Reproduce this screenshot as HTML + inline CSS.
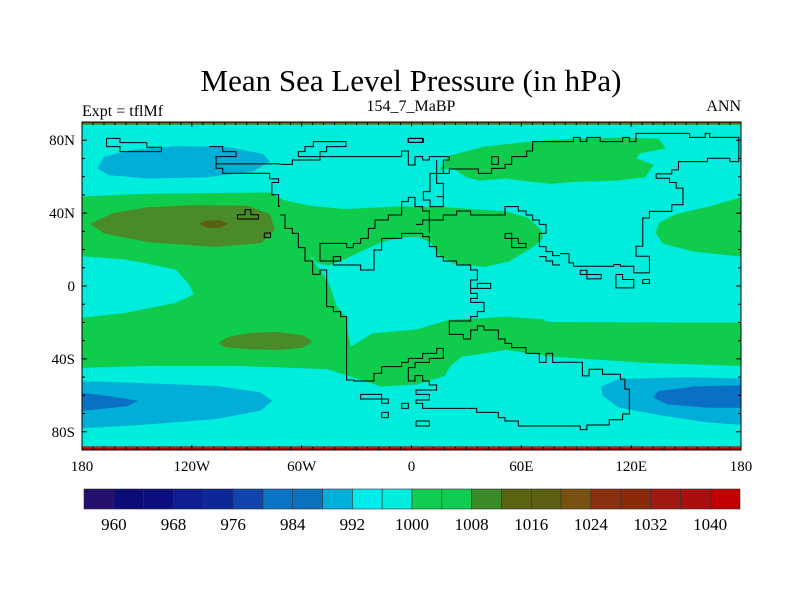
<!DOCTYPE html>
<html><head><meta charset="utf-8">
<style>
html,body{margin:0;padding:0;background:#fff;}
svg{display:block;font-family:"Liberation Serif",serif;}
</style></head>
<body>
<svg id="chart" width="800" height="600" viewBox="0 0 800 600" xmlns="http://www.w3.org/2000/svg">
<text x="411" y="91" font-size="31" text-anchor="middle">Mean Sea Level Pressure (in hPa)</text>
<text x="82" y="116" font-size="16">Expt = tflMf</text>
<text x="411" y="111" font-size="16" text-anchor="middle">154_7_MaBP</text>
<text x="741" y="111" font-size="16" text-anchor="end">ANN</text>
<defs><clipPath id="mapclip"><rect x="82" y="122" width="659" height="328"/></clipPath></defs>
<g id="map" clip-path="url(#mapclip)">
<rect x="82" y="122" width="659" height="328" fill="#00ecdc"/>
<g id="fills" transform="matrix(0.4468 0 0 0.3322 59.66 100.13)"></g>
<rect x="82" y="121" width="659" height="2.5" fill="#8a5010"/>
<rect x="82" y="123.5" width="659" height="1.2" fill="#3a8a28"/>
<rect x="82" y="446.3" width="659" height="1.5" fill="#8a3010"/>
<rect x="82" y="447.8" width="659" height="2.5" fill="#c00000"/>
<g id="coast2" transform="matrix(0.4468 0 0 0.3322 59.66 100.13)" fill="none" stroke="#000" stroke-width="1"></g>
<g id="coast3" transform="translate(280 125) scale(0.33333)" fill="none" stroke="#000" stroke-width="1"></g>
</g>
<rect x="82" y="122" width="659" height="328" fill="none" stroke="#000" stroke-width="1"/>
<g id="axes"></g>
<g id="colorbar"></g>
</svg>
<script>
const NS="http://www.w3.org/2000/svg";
// colorbar data
const cbLevels=[960,964,968,972,976,980,984,988,992,996,1000,1004,1008,1012,1016,1020,1024,1028,1032,1036,1040];
const cbColors=["#24106c","#0c0c78","#0c0e80","#0e1e90","#0c2898","#1244b0","#0a74c4","#0872c0","#00b0dc","#00ecec","#00ecdc","#10cc50","#10cc50","#3a8a28","#5a6410","#5a6010","#7a5010","#8a3010","#8a2a08","#a01810","#a81010","#c00000"];
const cbLabels=[960,968,976,984,992,1000,1008,1016,1024,1032,1040];
// axis data
const lonTicks=[-180,-120,-60,0,60,120,180];
const lonTickLabels=["180","120W","60W","0","60E","120E","180"];
const latTicks=[80,40,0,-40,-80];
const latTickLabels=["80N","40N","0","40S","80S"];
const X=lon=>82+(lon+180)/360*659;
const Y=lat=>286-lat*328/180;

function mk(tag,attrs,parent){const e=document.createElementNS(NS,tag);for(const k in attrs)e.setAttribute(k,attrs[k]);parent.appendChild(e);return e;}
function pts(a){let s="";for(let i=0;i<a.length;i+=2)s+=a[i]+","+a[i+1]+" ";return s;}

// contour fill regions (traced)
const fills=[
 ["green-band-main","#10cc4c",[50,290,200,282,470,278,500,300,560,318,640,328,760,320,860,322,1000,335,1050,355,1080,395,1085,500,1085,665,1100,668,1525,670,1525,800,1300,790,1100,772,1000,752,900,772,875,800,862,830,800,856,720,862,650,832,600,810,400,800,200,800,50,806]],
 ["cyan-interior","#00ecdc",[552,455,575,490,600,498,640,478,680,452,720,428,760,414,800,412,830,428,848,465,882,492,950,502,1005,486,1060,442,1095,400,1100,380,1100,662,1000,652,870,662,800,690,700,702,652,742,645,700,640,650,620,620,605,560,585,515]],
 ["cyan-equator-lens","#00ecdc",[50,470,150,480,260,510,290,555,300,585,260,610,150,640,50,655]],
 ["green-north-asia","#10cc4c",[850,210,870,168,950,140,1050,125,1150,116,1250,113,1340,116,1357,145,1300,160,1290,175,1330,195,1310,232,1250,242,1150,246,1100,252,1030,242,1000,236,940,242,910,232,880,205]],
 ["green-east-lobe","#10cc4c",[1530,290,1460,318,1380,343,1342,368,1334,400,1350,432,1420,456,1530,472]],
 ["olive-nw-high","#4a8a28",[68,372,120,340,200,322,300,316,420,318,470,342,482,388,452,430,350,442,200,428,100,402]],
 ["olive-nw-core","#5a6010",[312,372,330,362,360,362,377,372,360,384,330,384]],
 ["olive-sw-high","#4a8a28",[355,730,380,712,430,700,490,698,545,708,567,727,545,745,490,752,420,750,370,744]],
 ["blue-nw-low","#00aed8",[84,205,100,170,160,150,260,138,380,142,455,162,470,185,432,215,330,232,200,236,110,226]],
 ["blue-sw-low","#00aed8",[45,846,150,850,350,860,450,880,476,905,450,935,350,960,200,976,45,988]],
 ["blue-se-low","#00aed8",[1530,838,1400,834,1250,840,1212,862,1215,890,1250,925,1350,950,1450,970,1530,978]],
 ["darkblue-sw-low","#0a70c4",[45,880,120,893,175,905,150,922,45,936]],
 ["darkblue-se-low","#0a70c4",[1530,858,1420,862,1340,876,1328,895,1360,916,1450,926,1530,926]]
];
const gF=document.getElementById("fills");
fills.forEach(f=>{const p=mk("polygon",{points:pts(f[2]),fill:f[1]},gF);

});

// coastlines (zoom-2 frame)
const coast2=[
 ["coast-nw-island",[105,115,135,115,135,128,195,128,195,142,228,142,228,155,135,155,135,140,105,140,105,115]],
 ["coast-north-america",[335,140,365,140,365,155,395,155,395,170,350,170,350,205,365,205,365,220,470,220,470,237,490,237,490,248,475,248,475,285,490,285,490,320,493,320]],
 ["coast-na-north",[350,192,493,192]],
 ["coast-island-a",[398,358,398,345,415,345,415,330,428,330,428,345,445,345,445,358,398,358]],
 ["coast-island-b",[458,400,472,400,472,414,458,414,458,400]],
 ["coast-eurasia-north",[1120,125,1150,125,1150,112,1165,112,1165,125,1180,125,1180,112,1210,112,1210,125,1260,125,1260,112,1275,112,1275,125,1290,125,1290,100,1410,100,1410,112,1445,112,1445,100,1455,100,1455,112,1520,112,1520,185,1500,185,1500,175,1450,175,1450,185,1385,185,1385,210,1370,210,1370,222,1335,222,1335,235,1365,235,1365,248,1380,248,1380,265,1395,265,1395,315,1370,315,1370,335,1320,335,1320,355,1305,355,1305,440,1290,440,1290,470,1320,470,1320,520,1285,520,1285,500,1255,500,1255,495,1240,495,1240,500,1150,500,1150,490,1140,490,1140,462,1120,462]],
 ["coast-island-c",[1165,512,1180,512,1180,525,1212,525,1212,538,1180,538,1180,525,1165,525,1165,512]],
 ["coast-island-d",[1245,525,1260,525,1260,540,1285,540,1285,565,1245,565,1245,525]],
 ["coast-island-e",[1305,540,1320,540,1320,552,1305,552,1305,540]],
 ["coast-australia-antarctica",[1120,981,1165,981,1165,992,1180,992,1180,978,1230,978,1230,962,1260,962,1260,945,1275,945,1275,870,1265,870,1265,840,1255,840,1255,825,1215,825,1215,810,1185,810,1185,830,1170,830,1170,789,1120,789]],
 ["coast-island-f",[780,115,812,115,812,127,780,127,780,115]]
];
const g2=document.getElementById("coast2");
coast2.forEach(c=>{const p=mk("polyline",{points:pts(c[1]),"vector-effect":"non-scaling-stroke"},g2);

});

// coastlines (zoom-3 frame)
const coast3=[
 ["coast-greenland",[55,95,55,80,75,80,75,65,100,65,100,50,198,50,198,65,140,65,140,80,120,80,120,95,55,95]],
 ["coast-arctic-shelf",[0,118,37,118,37,105,120,105,120,95,200,95,365,95,365,78,385,78,385,120,405,120,405,95,428,95,428,105,448,105,448,95,508,95,508,105,490,105,490,145,470,145,470,175,490,175,490,215,470,215]],
 ["coast-europe-west",[470,105,470,145,450,145,450,200,430,200,430,225,450,225,450,245,490,245,490,215]],
 ["coast-eurasia-top",[490,145,508,145,508,132,595,132,595,145,635,145,635,130,675,130,675,118,695,118,695,95,740,95,740,78,758,78,758,50,840,50]],
 ["coast-small-box",[635,95,655,95,655,118,635,118,635,95]],
 ["coast-small-box-2",[385,40,430,40,430,52,385,52,385,40]],
 ["coast-americas-west",[0,270,15,270,15,310,37,310,37,325,55,325,55,368,75,368,75,408,98,408,98,448,120,448,120,435,140,435,140,545,160,545,160,560,182,560,182,575,200,575,200,765,222,765,222,768,282,768,282,745,305,745,305,725,365,725,365,712,385,712,385,700,428,700,428,685,470,685,470,670,490,670,490,700,448,700,448,712,405,712,405,728,385,728,385,768,405,768,405,752,428,752,428,768,448,768,448,780,470,780,470,795,408,795,408,808,448,808,448,825,408,825,408,835,428,835,428,850,590,850,590,862,655,862,655,878,675,878,675,888,715,888,715,903,840,903]],
 ["coast-tethys-north",[120,408,120,355,200,355,200,368,220,368,220,355,242,355,242,340,265,340,265,310,285,310,285,285,325,285,325,270,365,270,365,230,385,230,385,217,405,217,405,245,428,245,428,258,448,258,448,325]],
 ["coast-africa",[120,408,182,408,182,395,160,395,160,420,242,420,242,435,282,435,282,375,305,375,305,340,365,340,365,325,428,325,428,335,448,335,448,365,470,365,470,395,490,395,490,408,530,408,530,420,572,420,572,435,592,435,592,465,572,465,572,490,592,490,592,475,632,475,632,490,592,490,572,490,572,505,592,505,592,520,572,520,572,532,612,532,612,560,592,560,592,575,572,575,572,588,508,588,508,628,550,628,550,642,572,642,572,615,592,615,592,603,612,603,612,615,655,615,655,642,675,642,675,655,695,655,695,668,738,668,738,685,778,685,778,712,798,712,798,685,818,685,818,712,840,712]],
 ["coast-eurasia-south",[408,298,428,298,428,285,490,285,490,270,530,270,530,258,572,258,572,270,675,270,675,245,715,245,715,258,738,258,738,270,758,270,758,285,778,285,778,298,798,298,798,325,778,325,778,365,798,365,798,380,818,380,818,392,840,392]],
 ["coast-island-g",[675,325,695,325,695,340,715,340,715,355,738,355,738,368,695,368,695,340,675,340,675,325]],
 ["coast-island-h",[778,395,798,395,798,408,818,408,818,420,840,420]],
 ["coast-island-i",[242,808,305,808,305,822,325,822,325,835,305,835,305,822,242,822,242,808]],
 ["coast-island-j",[365,835,385,835,385,850,365,850,365,835]],
 ["coast-island-k",[305,862,325,862,325,878,305,878,305,862]],
 ["coast-island-l",[408,888,448,888,448,903,408,903,408,888]]
];
const g3=document.getElementById("coast3");
coast3.forEach(c=>{const p=mk("polyline",{points:pts(c[1]),"vector-effect":"non-scaling-stroke"},g3);

});

// axes ticks
const gA=document.getElementById("axes");
for(let lon=-180;lon<=180;lon+=6){
  const major=lon%60===0, L=major?5:3;
  const t1=mk("line",{x1:X(lon),x2:X(lon),y1:450,y2:450-L,stroke:"#000","stroke-width":1},gA);
  
  
  const t2=mk("line",{x1:X(lon),x2:X(lon),y1:122,y2:122+L,stroke:"#000","stroke-width":1},gA);
  
  
}
for(let lat=-90;lat<=90;lat+=10){
  const major=(lat%40===0), L=major?5:3;
  const t1=mk("line",{x1:82,x2:82+L,y1:Y(lat),y2:Y(lat),stroke:"#000","stroke-width":1},gA);
  
  
  const t2=mk("line",{x1:741,x2:741-L,y1:Y(lat),y2:Y(lat),stroke:"#000","stroke-width":1},gA);
  
  
}
lonTicks.forEach((lon,i)=>{const t=mk("text",{x:X(lon),y:471,"font-size":15,"text-anchor":"middle"},gA);t.textContent=lonTickLabels[i];

});
latTicks.forEach((lat,i)=>{const t=mk("text",{x:75,y:Y(lat)+5,"font-size":15,"text-anchor":"end"},gA);t.textContent=latTickLabels[i];

});

// colorbar
const gC=document.getElementById("colorbar");
const cbX0=84,cbX1=740,cbY=489,cbH=20,bw=(cbX1-cbX0)/cbColors.length;
cbColors.forEach((c,i)=>{const r=mk("rect",{x:cbX0+i*bw,y:cbY,width:bw,height:cbH,fill:c,stroke:"#333","stroke-width":0.6},gC);

});
cbLabels.forEach(v=>{const i=cbLevels.indexOf(v);const t=mk("text",{x:cbX0+(i+1)*bw,y:530,"font-size":17,"text-anchor":"middle"},gC);t.textContent=v;

});
</script>
</body></html>
